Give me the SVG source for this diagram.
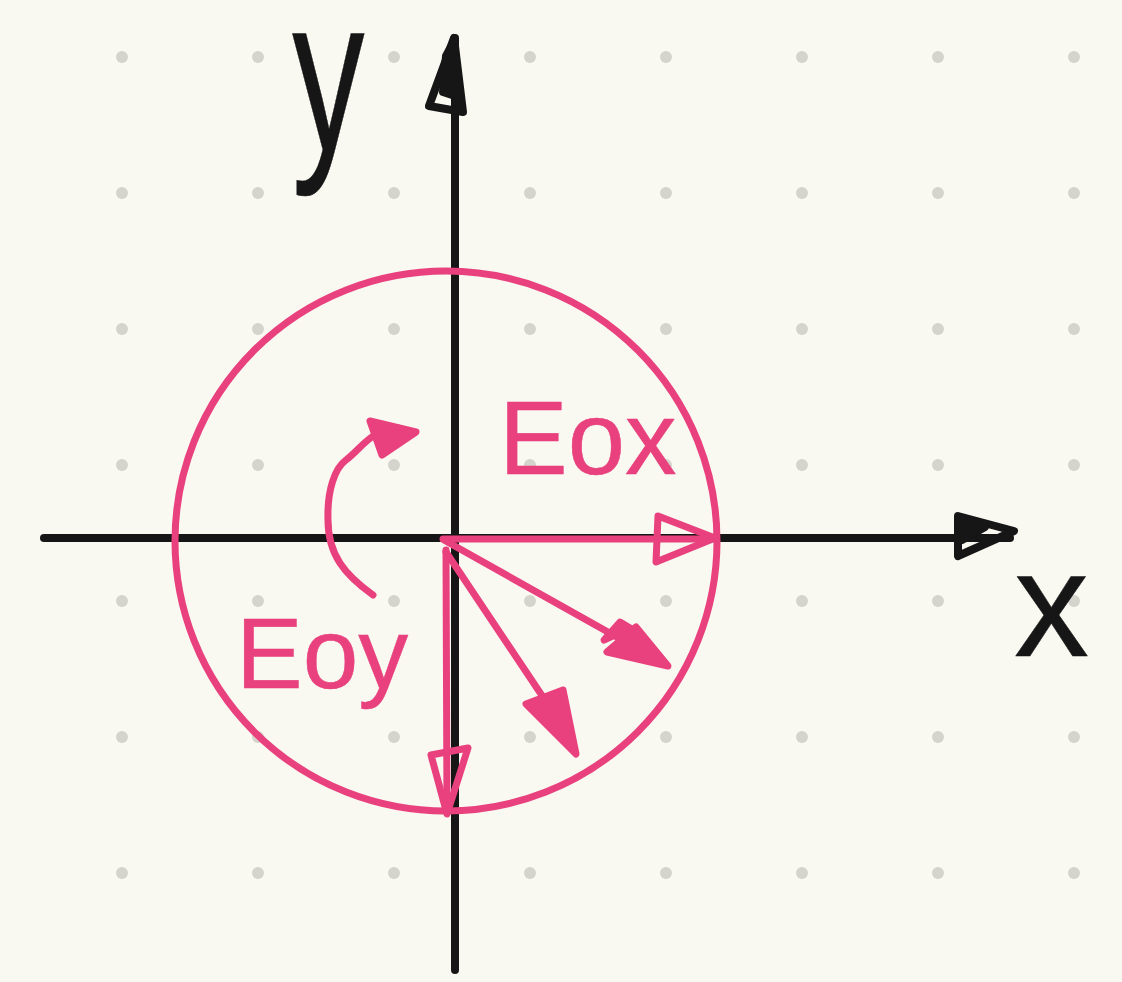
<svg xmlns="http://www.w3.org/2000/svg" width="1122" height="982" viewBox="0 0 1122 982">
<defs>
<style>
.bk{stroke:#161616;fill:none;stroke-width:8;stroke-linecap:round;stroke-linejoin:round}
.pk{stroke:#e8417e;fill:none;stroke-width:7;stroke-linecap:round;stroke-linejoin:round}
.pkf{stroke:#e8417e;fill:#e8417e;stroke-width:7;stroke-linecap:round;stroke-linejoin:round}
.bkf{stroke:#161616;fill:#161616;stroke-width:8;stroke-linecap:round;stroke-linejoin:round}
.tp{font-family:"Liberation Sans",Arial,sans-serif;fill:#e8417e;stroke:#e8417e;stroke-width:0.5;stroke-linejoin:round}
.tb{font-family:"Liberation Sans",Arial,sans-serif;fill:#161616;stroke:#161616;stroke-width:0.5;stroke-linejoin:round}
.dot{fill:#d4d4cc}
</style>
<pattern id="dots" x="54" y="-11" width="136" height="136" patternUnits="userSpaceOnUse">
<circle class="dot" cx="68" cy="68" r="6"/>
</pattern>
</defs>
<rect width="1122" height="982" fill="#f9f9f2"/>
<rect width="1122" height="982" fill="url(#dots)"/>
<g id="axes">
<line class="bk" x1="44" y1="538" x2="1010" y2="538"/>
<path class="bk" d="M958,516 L1014,531 L958,556 Z"/>
<path class="bkf" d="M960,518 L985,527 L962,540 Z"/>
<line class="bk" x1="455" y1="38" x2="455" y2="970"/>
<path class="bk" d="M429,106 L454,38 L463,112 Z"/>
<path class="bkf" d="M446,56 L452,45 L452,95 L443,92 Z"/>
</g>
<g id="circle">
<ellipse class="pk" cx="446" cy="541" rx="271" ry="270"/>
</g>
<g id="connectors">
<line class="pk" x1="443" y1="539" x2="712" y2="539"/>
<path class="pk" d="M658,516 L715,538 L656,562 Z"/>
<line class="pk" x1="444" y1="540" x2="640" y2="650"/>
<path class="pkf" d="M607,652 L668,666 L636,627 Z"/>
<path class="pkf" d="M604,640 L620,622 L630,628 Z"/>
<line class="pk" x1="446" y1="552" x2="565" y2="730"/>
<path class="pkf" d="M526,704 L576,754 L563,690 Z"/>
<line class="pk" x1="446" y1="550" x2="447" y2="812"/>
<path class="pk" d="M431,755 L468,748 L447,814 Z"/>
<path class="pk" d="M373,595 C345,575 328,555 328,520 C327,490 335,468 346,460 C362,448 370,430 398,428"/>
<path class="pkf" d="M370,421 L416,432 L382,455 Z"/>
</g>
<g id="labels">
<text class="tp" x="499" y="474" font-size="103">Eox</text>
<text class="tp" x="236" y="688" font-size="100">Eoy</text>
<text class="tb" transform="translate(292,150) scale(0.66,1)" font-size="220">y</text>
<text class="tb" x="1014" y="656" font-size="150">x</text>
</g>
</svg>
